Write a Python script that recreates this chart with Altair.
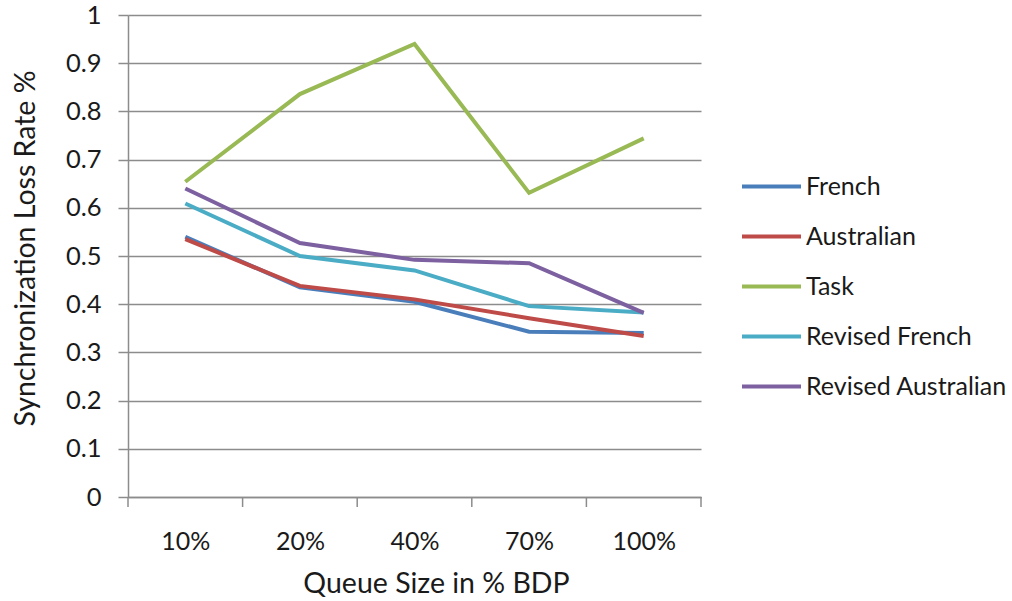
import altair as alt
import pandas as pd

# Queue sizes (x categories) and loss rates per scheme
queue_sizes = ["10%", "20%", "40%", "70%", "100%"]
series_names = ["French", "Australian", "Task", "Revised French", "Revised Australian"]
french = [0.540, 0.435, 0.405, 0.343, 0.340]
australian = [0.535, 0.438, 0.410, 0.371, 0.334]
task = [0.654, 0.836, 0.940, 0.631, 0.744]
revised_french = [0.609, 0.500, 0.470, 0.396, 0.383]
revised_australian = [0.640, 0.527, 0.492, 0.485, 0.382]
colors = ["#4A7EBB", "#BE4B48", "#98B954", "#4BACC6", "#7D60A0"]

values = [french, australian, task, revised_french, revised_australian]
rows = []
for name, vals in zip(series_names, values):
    for i, (q, v) in enumerate(zip(queue_sizes, vals)):
        rows.append({"idx": i, "queue": q, "series": name, "rate": v})
df = pd.DataFrame(rows)

# category boundaries for the outward tick marks on the x axis
bounds = pd.DataFrame({"b": [i - 0.5 for i in range(len(queue_sizes) + 1)]})

W, H = 573, 482
FONT = "Lato"
TXT = "#1a1a1a"
GRID = "#8c8c8c"

label_expr = "[" + ",".join(f"'{q}'" for q in queue_sizes) + "][datum.value]"

x_scale = alt.Scale(domain=[-0.5, len(queue_sizes) - 0.5], nice=False, zero=False)

lines = alt.Chart(df).mark_line(strokeWidth=4, strokeJoin="miter").encode(
    x=alt.X("idx:Q", scale=x_scale,
            axis=alt.Axis(values=list(range(len(queue_sizes))), labelExpr=label_expr,
                          title="Queue Size in % BDP", ticks=False, grid=False,
                          domainColor=GRID, domainWidth=1.5,
                          labelFont=FONT, labelFontSize=25, labelColor=TXT,
                          labelPadding=32, titleFont=FONT, titleFontSize=28.5,
                          titleFontWeight="normal", titleColor=TXT, titlePadding=15,
                          titleX=308)),
    y=alt.Y("rate:Q", scale=alt.Scale(domain=[0, 1], nice=False),
            axis=alt.Axis(values=[i / 10 for i in range(11)], labelExpr="format(datum.value, '.1~f')",
                          title="Synchronization Loss Rate %", tickSize=10, tickColor=GRID,
                          tickWidth=1.5, domainColor=GRID, domainWidth=1.5,
                          gridColor=GRID, gridWidth=1.5,
                          labelFont=FONT, labelFontSize=25.5, labelColor=TXT, labelPadding=17,
                          titleFont=FONT, titleFontSize=28.5, titleFontWeight="normal",
                          titleColor=TXT, titlePadding=25, titleY=233)),
    color=alt.Color("series:N", sort=series_names,
                    scale=alt.Scale(domain=series_names, range=colors),
                    legend=alt.Legend(title=None, orient="none", legendX=612, legendY=140,
                                      symbolType="stroke", symbolSize=3481,
                                      symbolStrokeWidth=4, rowPadding=5, labelOffset=3,
                                      labelLimit=0,
                                      labelFont=FONT, labelFontSize=25, labelColor=TXT,
                                      padding=0)),
    order=alt.Order("idx:Q"),
)

ticks = alt.Chart(bounds).mark_rule(color=GRID, strokeWidth=1.5).encode(
    x=alt.X("b:Q", scale=x_scale),
    y=alt.value(H),
    y2=alt.value(H + 10),
)

chart = alt.layer(lines, ticks).properties(
    width=W, height=H,
    autosize=alt.AutoSizeParams(type="none"),
    padding={"left": 128, "top": 15, "right": 1012 - 128 - W, "bottom": 601 - 15 - H},
    background="white",
).configure_view(stroke=None)

chart.save("out.html", embed_options={"renderer": "svg", "actions": False})
